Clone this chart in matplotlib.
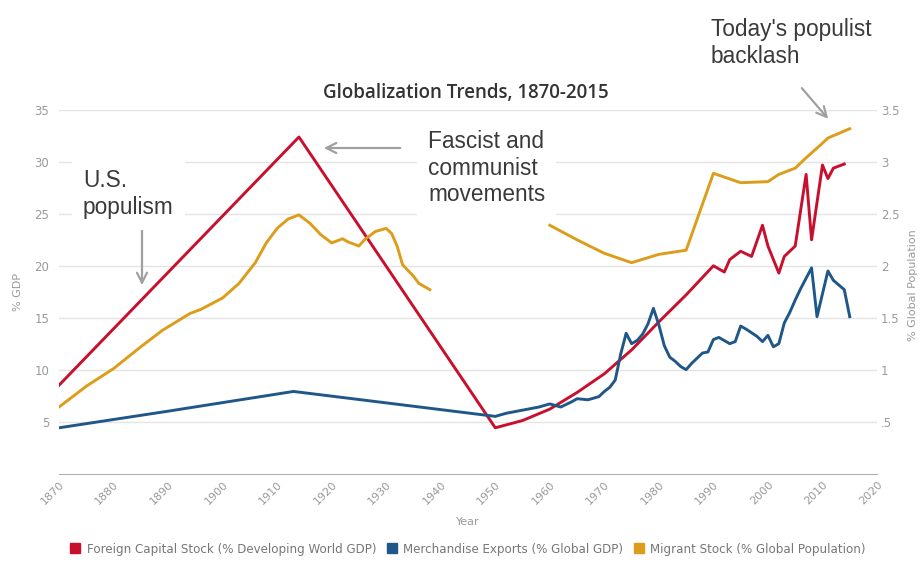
import numpy as np
import matplotlib.pyplot as plt
from matplotlib.lines import Line2D

# Foreign Capital Stock (% Developing World GDP), left axis
capital_years = [1870, 1914, 1950, 1955, 1960, 1965, 1970, 1975, 1980, 1985, 1990, 1992, 1993,
                 1995, 1997, 1999, 2000, 2002, 2003, 2005, 2007, 2008, 2010, 2011, 2012, 2014]
capital = [8.5, 32.4, 4.4, 5.1, 6.2, 7.8, 9.6, 11.9, 14.6, 17.2, 20.0, 19.4, 20.6,
           21.4, 20.9, 23.9, 21.9, 19.3, 20.9, 21.9, 28.8, 22.5, 29.7, 28.4, 29.4, 29.8]

# Merchandise Exports (% Global GDP), left axis
exports_years = [1870, 1890, 1913, 1930, 1950, 1952, 1955, 1958, 1960, 1962, 1964, 1965, 1967,
                 1969, 1970, 1971, 1972, 1973, 1974, 1975, 1976, 1977, 1978, 1979, 1980, 1981,
                 1982, 1983, 1984, 1985, 1986, 1988, 1989, 1990, 1991, 1993, 1994, 1995, 1996,
                 1998, 1999, 2000, 2001, 2002, 2003, 2004, 2005, 2006, 2007, 2008, 2009, 2011,
                 2012, 2014, 2015]
exports = [4.4, 6.0, 7.9, 6.8, 5.5, 5.8, 6.1, 6.4, 6.7, 6.4, 6.9, 7.2, 7.1,
           7.4, 7.9, 8.3, 9.0, 11.5, 13.5, 12.5, 12.8, 13.4, 14.4, 15.9, 14.3, 12.3,
           11.2, 10.8, 10.3, 10.0, 10.6, 11.6, 11.7, 12.9, 13.1, 12.5, 12.7, 14.2, 13.9,
           13.2, 12.7, 13.3, 12.2, 12.5, 14.5, 15.5, 16.7, 17.8, 18.8, 19.8, 15.1, 19.5,
           18.6, 17.7, 15.1]

# Migrant Stock (% Global Population), right axis (gap 1938-1960)
migrant_years = [1870, 1875, 1880, 1885, 1889, 1894, 1896, 1900, 1903, 1906, 1908, 1910, 1912,
                 1914, 1916, 1918, 1920, 1922, 1923, 1925, 1926, 1928, 1930, 1931, 1932, 1933,
                 1935, 1936, 1938, 1949,
                 1960, 1965, 1970, 1975, 1980, 1985, 1990, 1995, 2000, 2002, 2005, 2007,
                 2010, 2011, 2015]
migrant = [0.64, 0.84, 1.01, 1.22, 1.38, 1.54, 1.58, 1.69, 1.83, 2.03, 2.22, 2.36, 2.45,
           2.49, 2.41, 2.30, 2.22, 2.26, 2.23, 2.19, 2.25, 2.33, 2.36, 2.31, 2.19, 2.01,
           1.90, 1.83, 1.77, np.nan,
           2.39, 2.25, 2.12, 2.03, 2.11, 2.15, 2.89, 2.80, 2.81, 2.88, 2.94, 3.04,
           3.18, 3.23, 3.32]

red = '#C8102E'
blue = '#1F5788'
orange = '#DC9D1A'
grey = '#9a9a9a'

W, H = 921, 562


def fp(x, y):
    # pixel position -> figure fraction
    return (x / W, 1 - y / H)


fig = plt.figure(figsize=(9.21, 5.62), dpi=100)
ax = fig.add_axes([59 / W, 1 - 473.5 / H, (877 - 59) / W, (473.5 - 110) / H])
ax2 = ax.twinx()

ax.plot(capital_years, capital, color=red, lw=2.1, zorder=3)
ax.plot(exports_years, exports, color=blue, lw=2.1, zorder=3)
ax2.plot(migrant_years, migrant, color=orange, lw=2.1)

ax.set_xlim(1870, 2020)
ax.set_ylim(0, 35)
ax2.set_ylim(0, 3.5)
ax.set_xticks(range(1870, 2021, 10))
ax.set_yticks([5, 10, 15, 20, 25, 30, 35])
ax2.set_yticks([0.5, 1, 1.5, 2, 2.5, 3, 3.5])
ax2.set_yticklabels(['.5', '1', '1.5', '2', '2.5', '3', '3.5'])

ax.grid(axis='y', color='#e4e4e4', lw=1)
ax.set_axisbelow(True)
for s in ['top', 'left', 'right']:
    ax.spines[s].set_visible(False)
    ax2.spines[s].set_visible(False)
ax2.spines['bottom'].set_visible(False)
ax.spines['bottom'].set_color('#b0b0b0')

ax.tick_params(axis='x', length=0, labelsize=8, labelcolor=grey, pad=4)
ax.tick_params(axis='y', length=0, labelsize=8.5, labelcolor=grey, pad=7)
ax2.tick_params(axis='y', length=0, labelsize=8.5, labelcolor=grey, pad=3)
for lab in ax.get_xticklabels():
    lab.set_rotation(45)
    lab.set_ha('right')
    lab.set_rotation_mode('anchor')

ax.set_xlabel('Year', fontsize=8, color=grey, labelpad=8)
fig.text(*fp(18, 292), '% GDP', rotation=90, fontsize=8, color=grey, ha='center', va='center')
fig.text(*fp(913, 285), '% Global Population', rotation=90, fontsize=8, color=grey,
         ha='center', va='center')

fig.text(*fp(466, 93), 'Globalization Trends, 1870-2015', fontsize=13.5, fontweight='semibold',
         family='Open Sans', color='#333333', ha='center', va='center')

# annotations
afont = dict(family='Liberation Sans', fontsize=16.3, color='#3a3a3a', linespacing=1.2)
box = dict(facecolor='white', edgecolor='none', pad=8)
fig.text(*fp(83, 169), 'U.S.\npopulism', va='top', ha='left', bbox=box, zorder=1, **afont)
fig.text(*fp(428, 130), 'Fascist and\ncommunist\nmovements', va='top', ha='left', bbox=box,
         zorder=1, **afont)
fig.text(*fp(711, 18), "Today's populist\nbacklash", va='top', ha='left', **afont)

arrow = dict(arrowstyle='->', color='#a0a0a0', lw=1.6, mutation_scale=18)
ax.annotate('', xy=fp(142, 288), xytext=fp(142, 226), xycoords='figure fraction',
            textcoords='figure fraction', arrowprops=arrow)
ax.annotate('', xy=fp(321, 148), xytext=fp(403, 148), xycoords='figure fraction',
            textcoords='figure fraction', arrowprops=arrow)
ax.annotate('', xy=fp(830, 121), xytext=fp(800, 86), xycoords='figure fraction',
            textcoords='figure fraction', arrowprops=arrow)

handles = [Line2D([], [], marker='s', ls='none', color=c, markersize=7) for c in (red, blue, orange)]
labels = ['Foreign Capital Stock (% Developing World GDP)', 'Merchandise Exports (% Global GDP)',
          'Migrant Stock (% Global Population)']
leg = fig.legend(handles, labels, loc='center', bbox_to_anchor=(468 / W, 1 - 549 / H), ncol=3,
                 frameon=False, fontsize=8.6, handletextpad=0.55, columnspacing=0.9,
                 handlelength=0.8, labelcolor='#777777')

fig.savefig('out.png', dpi=100)
